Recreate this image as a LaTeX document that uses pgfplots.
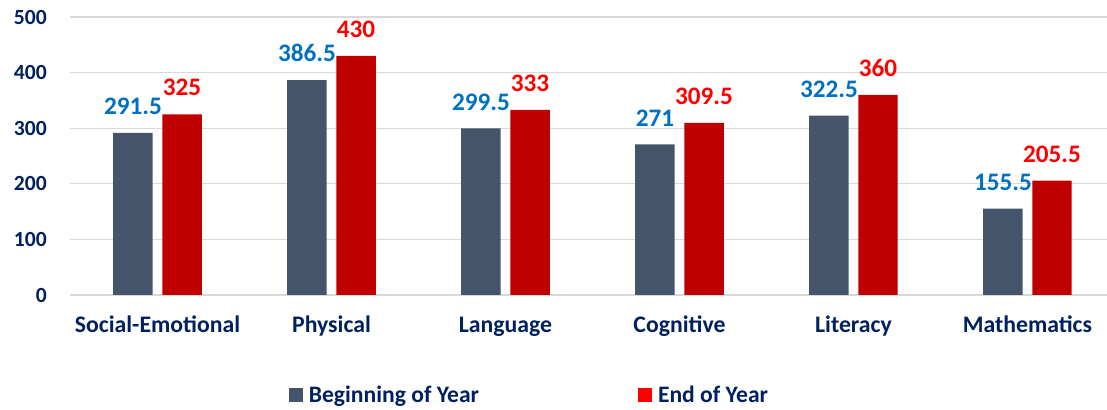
\documentclass[border=0pt]{standalone}
\usepackage{pgfplots}
\pgfplotsset{compat=1.18}
\usepackage{fontspec}
\setmainfont{Carlito}
\definecolor{boy}{HTML}{44546A}
\definecolor{eoy}{HTML}{C00000}
\definecolor{boylab}{HTML}{0070C0}
\definecolor{eoylab}{HTML}{FF0000}
\definecolor{navy}{HTML}{002060}
\definecolor{gridc}{HTML}{D9D9D9}
\begin{document}
\begin{tikzpicture}
\begin{axis}[
  scale only axis, width=783pt, height=208.5pt,
  xmin=-0.5, xmax=5.5, ymin=0, ymax=500,
  /pgf/number format/assume math mode=true,
  axis line style={draw=none},
  major tick length=0pt,
  ymajorgrids, grid style={gridc, line width=1pt},
  ytick={0,100,...,500},
  xtick={0,...,5},
  xticklabels={Social-Emotional,Physical,Language,Cognitive,Literacy,Mathematics},
  yticklabel style={font=\fontsize{16.2}{19}\selectfont\bfseries, text=navy, anchor=east, inner sep=0pt, xshift=-17.6pt},
  xticklabel style={font=\fontsize{17.8}{20}\selectfont\bfseries, text=navy, anchor=base, inner sep=0pt, yshift=-28.5pt},
  ybar=7.2pt, bar width=29.6pt,
  nodes near coords,
  every node near coord/.append style={font=\fontsize{18.9}{22}\selectfont\bfseries, anchor=south, inner sep=0pt, yshift=13.5pt},
  legend columns=2,
  legend style={at={(0.2054,-0.3593)}, anchor=west, draw=none, fill=none,
    font=\fontsize{17.7}{20}\selectfont\bfseries, text=navy,
    /tikz/every odd column/.append style={column sep=2.25pt},
    /tikz/every even column/.append style={column sep=117.5pt}},
]
\addplot[fill=boy, draw=none, every node near coord/.append style={text=boylab},
  legend image code/.code={\fill[boy] (0pt,-5.25pt) rectangle (10.5pt,5.25pt);}]
  coordinates {(0,291.5) (1,386.5) (2,299.5) (3,271) (4,322.5) (5,155.5)};
\addlegendentry{Beginning of Year}
\addplot[fill=eoy, draw=none, every node near coord/.append style={text=eoylab},
  legend image code/.code={\fill[eoylab] (0pt,-5.25pt) rectangle (10.5pt,5.25pt);}]
  coordinates {(0,325) (1,430) (2,333) (3,309.5) (4,360) (5,205.5)};
\addlegendentry{End of Year}
\end{axis}
\pgfresetboundingbox
\useasboundingbox (-52.875pt,-86.25pt) rectangle (777.4pt,221.25pt);
\end{tikzpicture}
\end{document}
